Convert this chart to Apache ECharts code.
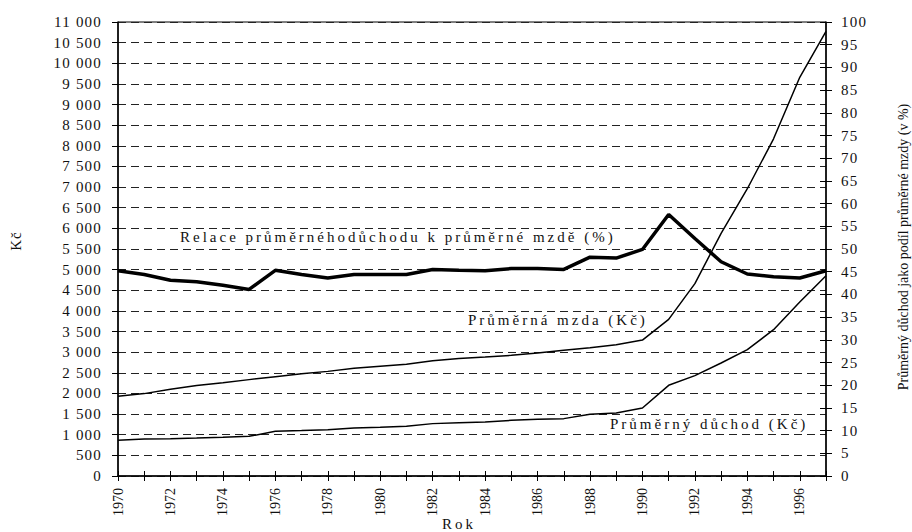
<!DOCTYPE html>
<html>
<head>
<meta charset="utf-8">
<script src="https://cdn.jsdelivr.net/npm/echarts@6/dist/echarts.min.js"></script>
<style>
html, body { margin: 0; padding: 0; background: #fff; }
#chart { width: 912px; height: 532px; }
</style>
</head>
<body>
<div id="chart"></div>
<script>
var years = ['1970', '1971', '1972', '1973', '1974', '1975', '1976', '1977', '1978', '1979',
    '1980', '1981', '1982', '1983', '1984', '1985', '1986', '1987', '1988', '1989',
    '1990', '1991', '1992', '1993', '1994', '1995', '1996', '1997'];
// average wage, Kc
var wage = [1930, 1996, 2100, 2190, 2260, 2335, 2407, 2480, 2535, 2610,
    2660, 2710, 2790, 2845, 2882, 2923, 2980, 3044, 3110, 3182,
    3294, 3795, 4660, 5880, 6960, 8170, 9660, 10770];
// average pension, Kc
var pension = [865, 896, 905, 920, 937, 961, 1083, 1100, 1123, 1163,
    1180, 1204, 1269, 1293, 1308, 1349, 1373, 1390, 1494, 1526,
    1647, 2197, 2432, 2737, 3061, 3546, 4215, 4850];
// pension as % of wage
var ratio = [45.2, 44.4, 43.1, 42.8, 42.0, 41.1, 45.3, 44.4, 43.6, 44.4,
    44.4, 44.4, 45.5, 45.3, 45.2, 45.7, 45.7, 45.5, 48.2, 48.0,
    49.9, 57.6, 52.3, 47.2, 44.5, 43.9, 43.6, 45.2];

var labelRatio = 'Relace průměrnéhodůchodu k průměrné mzdě (%)';
var labelWage = 'Průměrná mzda (Kč)';
var labelPension = 'Průměrný důchod (Kč)';
var nameX = 'Rok';
var nameLeft = 'Kč';
var nameRight = 'Průměrný důchod jako podíl průměrné mzdy (v %)';

var serif = 'Liberation Serif';

function textEl(str, x, y, size, rot, align) {
    return {
        type: 'text', x: x, y: y, rotation: rot || 0,
        style: {
            text: str, fontFamily: serif, fontSize: size, fill: '#111',
            align: align || 'left', verticalAlign: 'middle'
        }
    };
}

var myChart = echarts.init(document.getElementById('chart'), null, {renderer: 'svg'});

var option = {
    animation: false,
    backgroundColor: '#fff',
    textStyle: {fontFamily: serif},
    grid: {
        left: 118, right: 86, top: 22, bottom: 56,
        show: true, borderColor: '#000', borderWidth: 1,
        outerBoundsMode: 'none'
    },
    xAxis: [
        {
            type: 'category', data: years, boundaryGap: false, position: 'bottom',
            axisLine: {lineStyle: {color: '#000', width: 1.5}},
            axisTick: {interval: 0, length: 5, lineStyle: {color: '#000', width: 1}},
            axisLabel: {interval: 1, rotate: 90, margin: 12, fontFamily: serif, fontSize: 14, color: '#111'},
            splitLine: {show: false}
        },
        {
            type: 'category', data: years, boundaryGap: false, position: 'bottom',
            axisLine: {show: false},
            axisTick: {inside: true, interval: 0, length: 5, lineStyle: {color: '#000', width: 1}},
            axisLabel: {show: false},
            splitLine: {show: false}
        }
    ],
    yAxis: [
        {
            type: 'value', position: 'left', min: 0, max: 11000, interval: 500,
            axisLine: {show: true, lineStyle: {color: '#000', width: 1.5}},
            axisTick: {show: true, length: 6, lineStyle: {color: '#000'}},
            axisLabel: {
                margin: 16, fontFamily: serif, fontSize: 15, color: '#111',
                formatter: function (value) {
                    return String(value).replace(/\B(?=(\d{3})+(?!\d))/g, ' ');
                }
            },
            splitLine: {show: true, lineStyle: {color: '#222', width: 1, type: [8, 5]}}
        },
        {
            type: 'value', position: 'right', min: 0, max: 100, interval: 5,
            axisLine: {show: true, lineStyle: {color: '#000', width: 1.5}},
            axisTick: {show: true, length: 6, lineStyle: {color: '#000'}},
            axisLabel: {margin: 15, fontFamily: serif, fontSize: 15, color: '#111'},
            splitLine: {show: false}
        },
        {
            type: 'value', position: 'right', min: 0, max: 100, interval: 5,
            axisLine: {show: false},
            axisTick: {show: true, inside: true, length: 6, lineStyle: {color: '#000'}},
            axisLabel: {show: false},
            splitLine: {show: false}
        }
    ],
    series: [
        {
            name: labelWage, type: 'line', data: wage, yAxisIndex: 0,
            symbol: 'none', lineStyle: {color: '#000', width: 1.5}
        },
        {
            name: labelPension, type: 'line', data: pension, yAxisIndex: 0,
            symbol: 'none', lineStyle: {color: '#000', width: 1.5}
        },
        {
            name: labelRatio, type: 'line', data: ratio, yAxisIndex: 1,
            symbol: 'none', lineStyle: {color: '#000', width: 3.5}
        }
    ],
    graphic: [
        textEl(labelRatio, 180, 237, 15),
        textEl(labelWage, 468, 320, 15),
        textEl(labelPension, 610, 424, 15),
        textEl(nameX, 459, 524, 15, 0, 'center'),
        textEl(nameLeft, 16, 241, 15, Math.PI / 2, 'center'),
        textEl(nameRight, 903, 247, 14, Math.PI / 2, 'center')
    ]
};
myChart.setOption(option);

// the source uses spaced-out lettering; svg text takes letter-spacing
function spaceLetters() {
    let nodes = document.querySelectorAll('#chart svg text');
    for (let i = 0; i < nodes.length; i++) {
        let t = nodes[i].textContent;
        let ls = '1.2px';
        if (t === labelRatio || t === labelWage || t === labelPension || t === nameX) {
            ls = '3px';
        } else if (t === nameLeft) {
            ls = '1px';
        } else if (t === nameRight || years.indexOf(t) >= 0) {
            ls = '0px';
        }
        nodes[i].setAttribute('letter-spacing', ls);
    }
}
spaceLetters();
myChart.on('finished', spaceLetters);
</script>
</body>
</html>
